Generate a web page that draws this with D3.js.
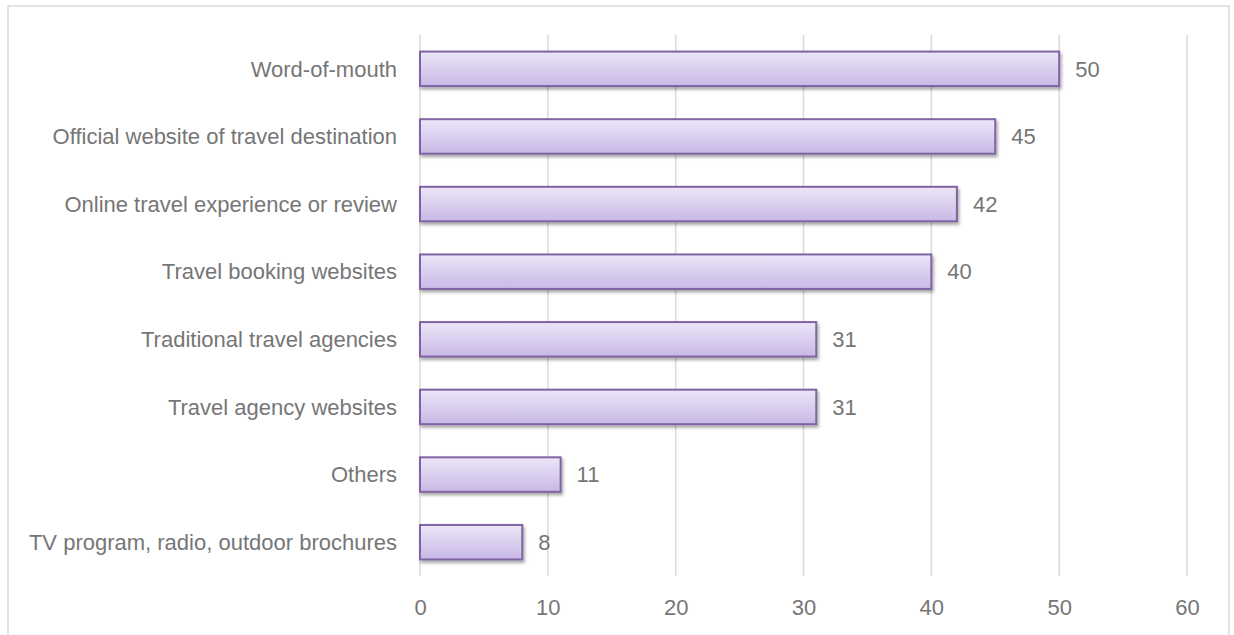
<!DOCTYPE html>
<html>
<head>
<meta charset="utf-8">
<script src="https://cdn.jsdelivr.net/npm/d3@7"></script>
<style>
  html, body { margin: 0; padding: 0; background: #fff; }
  svg { display: block; }
  text { font-family: "Liberation Sans", "DejaVu Sans", sans-serif; fill: #767676; }
</style>
</head>
<body>
<svg id="chart" width="1234" height="635"></svg>
<script>
// Information sources used when planning a trip (share of respondents, %)
const categories = [
  "Word-of-mouth",
  "Official website of travel destination",
  "Online travel experience or review",
  "Travel booking websites",
  "Traditional travel agencies",
  "Travel agency websites",
  "Others",
  "TV program, radio, outdoor brochures"
];
const values = [50, 45, 42, 40, 31, 31, 11, 8];
const xTicks = [0, 10, 20, 30, 40, 50, 60];

const svg = d3.select("#chart");
const W = 1234, H = 635;
const margin = { left: 420, right: 47, top: 35, bottom: 59 };
const fontSize = 22;

// Chart frame
svg.append("rect")
  .attr("x", 8).attr("y", 6)
  .attr("width", 1221).attr("height", 640)
  .attr("fill", "#fff").attr("stroke", "#d9d9d9").attr("stroke-width", 1.5);

const defs = svg.append("defs");
const grad = defs.append("linearGradient")
  .attr("id", "barFill").attr("x1", 0).attr("y1", 0).attr("x2", 0).attr("y2", 1);
grad.append("stop").attr("offset", "0%").attr("stop-color", "#ece6f7");
grad.append("stop").attr("offset", "100%").attr("stop-color", "#c8b8e6");

const shadow = defs.append("filter").attr("id", "barShadow")
  .attr("x", "-5%").attr("y", "-20%").attr("width", "115%").attr("height", "160%");
shadow.append("feDropShadow")
  .attr("dx", 1.5).attr("dy", 2.5).attr("stdDeviation", 1.6)
  .attr("flood-color", "#000").attr("flood-opacity", 0.35);

const x = d3.scaleLinear().domain([0, 60]).range([margin.left, W - margin.right]);
const y = d3.scaleBand().domain(categories)
  .range([margin.top, H - margin.bottom]).paddingInner(0.49).paddingOuter(0.245);

// Vertical gridlines
svg.append("g")
  .selectAll("line").data(xTicks).join("line")
  .attr("x1", d => x(d)).attr("x2", d => x(d))
  .attr("y1", margin.top).attr("y2", H - margin.bottom)
  .attr("stroke", "#d9d9d9").attr("stroke-width", 1.5);

// Bars
svg.append("g")
  .selectAll("rect").data(values).join("rect")
  .attr("x", x(0))
  .attr("y", (d, i) => y(categories[i]))
  .attr("width", d => x(d) - x(0))
  .attr("height", y.bandwidth())
  .attr("fill", "url(#barFill)")
  .attr("stroke", "#8064a2").attr("stroke-width", 2)
  .attr("filter", "url(#barShadow)");

// Value labels
svg.append("g")
  .selectAll("text").data(values).join("text")
  .attr("x", d => x(d) + 16)
  .attr("y", (d, i) => y(categories[i]) + y.bandwidth() / 2)
  .attr("dy", "0.35em")
  .attr("font-size", fontSize)
  .text(d => d);

// Category axis labels
svg.append("g")
  .selectAll("text").data(categories).join("text")
  .attr("x", 397)
  .attr("y", d => y(d) + y.bandwidth() / 2)
  .attr("dy", "0.35em")
  .attr("text-anchor", "end")
  .attr("font-size", fontSize)
  .text(d => d);

// Value axis tick labels
const xAxis = d3.axisBottom(x).tickValues(xTicks).tickSize(0).tickPadding(0);
const gx = svg.append("g").attr("transform", `translate(0,${H - margin.bottom})`).call(xAxis);
gx.select(".domain").remove();
gx.selectAll("text")
  .attr("y", 31).attr("dy", "0.35em")
  .attr("font-size", fontSize)
  .attr("fill", "#767676")
  .style("font-family", "'Liberation Sans', 'DejaVu Sans', sans-serif");
</script>
</body>
</html>
